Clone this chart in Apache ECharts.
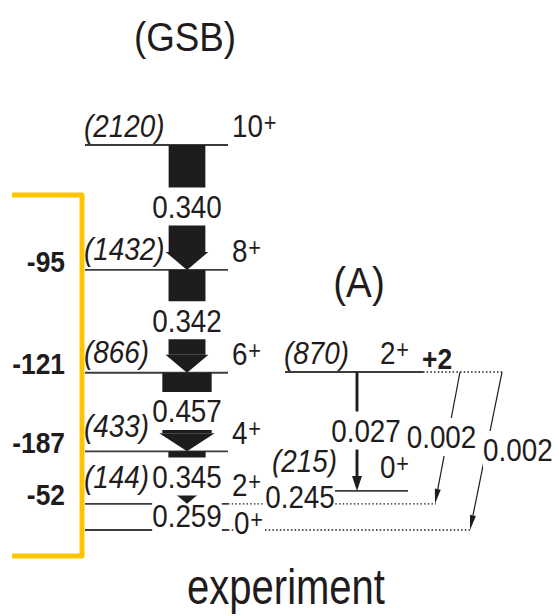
<!DOCTYPE html>
<html><head><meta charset="utf-8">
<script src="https://cdn.jsdelivr.net/npm/echarts@6/dist/echarts.min.js"></script>
<style>html,body{margin:0;padding:0;background:#fff}#c{width:559px;height:616px}</style>
</head><body><div id="c"></div>
<script>
// ---------------- data ----------------
const bandNames = ['GSB', 'A'];
const caption = 'experiment';
const gsbSpins = [0, 2, 4, 6, 8, 10];
const gsbEnergies = [0, 144, 433, 866, 1432, 2120];      // keV
const gsbBE2 = [0.259, 0.345, 0.457, 0.342, 0.340];       // J+2 -> J
const gsbQ = [null, -52, -187, -121, -95, null];
const aSpins = [2, 0];
const aEnergies = [870, 215];
const aQ = [2, null];
const interFromE = [870, 870, 870, 215];
const interToE = [215, 144, 0, 144];
const interBE2 = [0.027, 0.002, 0.002, 0.245];

// ---------------- layout / style ----------------
const FONT = "'Liberation Sans','Arimo',Arial,sans-serif";
const SX = 0.87;               // horizontal condensing of the text
const INK = '#1f1c1d';
const LEVEL = '#3c3c3c';
const YELLOW = '#FFC400';
const GSB_X0 = 85, GSB_X1 = 228, GSB_AX = 187, GSB_SPIN_X = 232, GSB_E_X = 84;
const GSB_E_DY = [0, -27, -26, -21, -21, -19];
const A_X0 = [285, 335], A_X1 = [423, 408], A_SPIN_X = 380;
const A_E_LABEL = [{x: 284, align: 'left', dy: -19}, {x: 337, align: 'right', dy: -30}];
const A_SPIN_DY = [-19.5, -24];
const INTER_X0 = [357, 460, 502, 300], INTER_X1 = [357, 435, 470, 300];
const INTER_LABEL = [{dx: 9, align: 'center'}, {dx: -6, align: 'center'}, {dx: -3, align: 'left'}, {dx: 0, align: 'center'}];
const WIDTH_PER_BE2 = 108;

// ---------------- build ----------------
const levels = [];
gsbEnergies.forEach((E, i) => levels.push({
  E, spin: gsbSpins[i], x0: GSB_X0, x1: GSB_X1, showE: E > 0, eX: GSB_E_X, eAlign: 'left',
  eDy: GSB_E_DY[i], spinX: i === 0 ? 234 : GSB_SPIN_X, spinDy: i === 0 ? -7 : -19, spinBg: i === 0
}));
aEnergies.forEach((E, i) => levels.push({
  E, spin: aSpins[i], x0: A_X0[i], x1: A_X1[i], showE: true, eX: A_E_LABEL[i].x, eAlign: A_E_LABEL[i].align,
  eDy: A_E_LABEL[i].dy, spinX: A_SPIN_X, spinDy: A_SPIN_DY[i], spinBg: false
}));
const trans = [];
gsbBE2.forEach((b, i) => trans.push({from: gsbEnergies[i + 1], to: gsbEnergies[i], b, x0: GSB_AX, x1: GSB_AX, dx: 0, align: 'center'}));
interFromE.forEach((f, i) => trans.push({from: f, to: interToE[i], b: interBE2[i], x0: INTER_X0[i], x1: INTER_X1[i], dx: INTER_LABEL[i].dx, align: INTER_LABEL[i].align}));
levels.forEach(l => {
  l.ext = l.x1;
  trans.forEach(t => {
    if (t.from === l.E && t.x0 > l.ext) l.ext = t.x0 + 1;
    if (t.to === l.E && t.x1 > l.ext) l.ext = t.x1 + 1;
  });
});
const qItems = [];
gsbQ.forEach((q, i) => { if (q !== null) qItems.push({E: gsbEnergies[i], q, x: 65, align: 'right', dy: -9}); });
aQ.forEach((q, i) => { if (q !== null) qItems.push({E: aEnergies[i], q, x: 422, align: 'left', dy: -14}); });

const chart = echarts.init(document.getElementById('c'), null, {renderer: 'svg', width: 559, height: 616});

function txt(text, x, y, o, sx) {
  return {type: 'text', x, y, scaleX: sx || SX,
    style: Object.assign({text, x: 0, y: 0, fontSize: 32, fontFamily: FONT, fill: INK, align: 'left', verticalAlign: 'middle'}, o)};
}

chart.setOption({
  animation: false,
  backgroundColor: '#fff',
  grid: {left: 0, right: 0, top: 57.84, bottom: 31.52},
  xAxis: {type: 'value', min: 0, max: 559, show: false},
  yAxis: {type: 'value', min: -300, max: 2600, show: false},
  graphic: [
    txt('(' + bandNames[0] + ')', 185, 37, {fontSize: 40, align: 'center'}, 0.92),
    txt('(' + bandNames[1] + ')', 359, 282, {fontSize: 42, align: 'center'}, 0.92),
    txt(caption, 286, 587, {fontSize: 50, align: 'center'}, 0.8)
  ],
  series: [
    {
      type: 'custom', name: 'levels', z: 2, silent: true,
      encode: {x: [0, 2], y: 1},
      data: levels.map(l => [l.x0, l.E, l.ext]),
      renderItem(params, api) {
        const l = levels[params.dataIndex];
        const a = api.coord([l.x0, l.E]), b = api.coord([l.x1, l.E]);
        const ch = [{type: 'line', shape: {x1: a[0], y1: a[1], x2: b[0], y2: b[1]}, style: {stroke: LEVEL, lineWidth: 1.8}}];
        if (l.ext > l.x1) {
          const c = api.coord([l.ext, l.E]);
          ch.push({type: 'line', shape: {x1: b[0], y1: b[1], x2: c[0], y2: c[1]}, style: {stroke: INK, lineWidth: 1.3, lineDash: [1.5, 2.2]}});
        }
        if (l.showE) ch.push(txt('(' + l.E + ')', api.coord([l.eX, l.E])[0], a[1] + l.eDy, {fontStyle: 'italic', align: l.eAlign}));
        ch.push({type: 'text', x: api.coord([l.spinX, l.E])[0], y: a[1] + l.spinDy, scaleX: SX, style: {
          text: '{j|' + l.spin + '}{p|+}', x: 0, y: 0,
          align: 'left', verticalAlign: 'middle', fill: INK, fontSize: 32, fontFamily: FONT,
          backgroundColor: l.spinBg ? '#fff' : 'transparent',
          rich: {j: {fontSize: 32, fontFamily: FONT, fill: INK}, p: {fontSize: 25, fontFamily: FONT, fill: INK, verticalAlign: 'top', padding: [0, 0, 0, 1]}}
        }});
        return {type: 'group', children: ch};
      }
    },
    {
      type: 'custom', name: 'transitions', z: 3, silent: true,
      encode: {x: [0, 2], y: [1, 3]},
      data: trans.map(t => [t.x0, t.from, t.x1, t.to]),
      renderItem(params, api) {
        const t = trans[params.dataIndex];
        const p0 = api.coord([t.x0, t.from]), p1 = api.coord([t.x1, t.to]);
        const w = t.b * WIDTH_PER_BE2;
        const ch = [];
        if (w > 6) {
          const len = p1[1] - p0[1];
          const head = Math.min(18, len * 0.5);
          const cx = p0[0];
          ch.push({type: 'rect', shape: {x: cx - w / 2, y: p0[1], width: w, height: len - head}, style: {fill: INK}});
          ch.push({type: 'polygon', shape: {points: [[cx - w / 2 - 3, p1[1] - head], [cx + w / 2 + 3, p1[1] - head], [cx, p1[1]]]}, style: {fill: INK}});
        } else {
          const dx = p1[0] - p0[0], dy = p1[1] - p0[1], L = Math.hypot(dx, dy);
          const ux = dx / L, uy = dy / L, head = 15, hw = Math.max(6, 3.4 * w) / 2;
          const bx = p1[0] - ux * head, by = p1[1] - uy * head;
          ch.push({type: 'line', shape: {x1: p0[0], y1: p0[1], x2: bx, y2: by}, style: {stroke: INK, lineWidth: Math.max(w, 1.2)}});
          ch.push({type: 'polygon', shape: {points: [[bx - uy * hw, by + ux * hw], [bx + uy * hw, by - ux * hw], [p1[0], p1[1]]]}, style: {fill: INK}});
        }
        const mx = (p0[0] + p1[0]) / 2 + t.dx, my = (p0[1] + p1[1]) / 2 - 1;
        ch.push(txt(t.b.toFixed(3), mx, my, {align: t.align, backgroundColor: '#fff', padding: [2, 0, 2, 0], lineHeight: 34}));
        return {type: 'group', children: ch};
      }
    },
    {
      type: 'custom', name: 'Q', z: 4, silent: true,
      encode: {x: 0, y: 1},
      data: qItems.map(q => [q.x, q.E]),
      renderItem(params, api) {
        const q = qItems[params.dataIndex];
        const p = api.coord([q.x, q.E]);
        return txt((q.q > 0 ? '+' : '') + q.q, p[0], p[1] + q.dy, {fontWeight: 'bold', fontSize: 30, align: q.align}, 0.88);
      }
    },
    {
      type: 'custom', name: 'bracket', z: 5, silent: true,
      encode: {x: 0, y: 1},
      data: [[82, Math.max(...gsbEnergies.filter((e, i) => gsbQ[i] !== null))]],
      renderItem(params, api) {
        const top = api.coord([82, api.value(1)])[1] - 75;
        const bot = api.coord([82, gsbEnergies[0]])[1] + 26;
        const xl = api.coord([12, 0])[0], xr = api.coord([82, 0])[0];
        return {type: 'polyline', shape: {points: [[xl, top], [xr, top], [xr, bot], [xl, bot]]},
          style: {stroke: YELLOW, lineWidth: 5, fill: null, lineJoin: 'round'}};
      }
    }
  ]
});
</script>
</body></html>
